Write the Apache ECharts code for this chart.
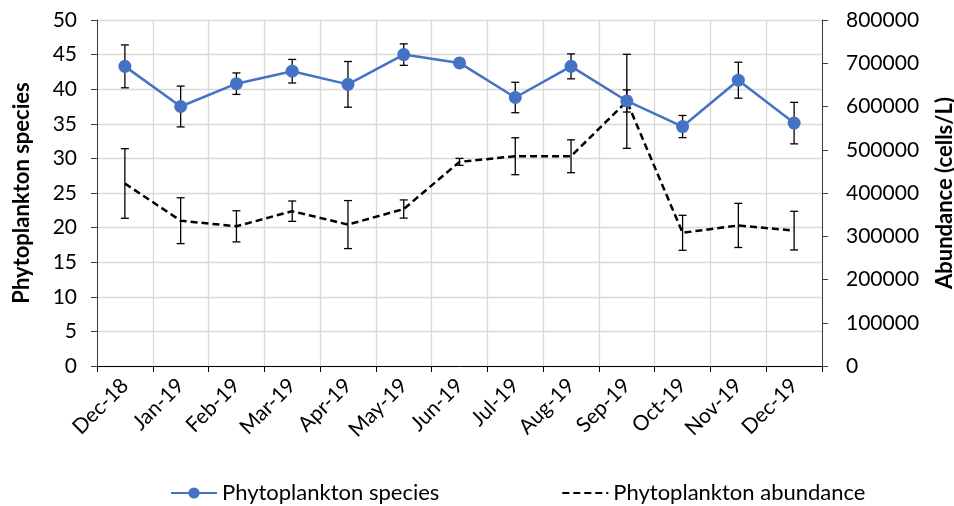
<!DOCTYPE html>
<html>
<head>
<meta charset="utf-8">
<script src="https://cdn.jsdelivr.net/npm/echarts@6/dist/echarts.min.js"></script>
<style>html,body{margin:0;padding:0;background:#fff}#c{width:954px;height:506px}</style>
</head>
<body>
<div id="c"></div>
<script>
var categories = ['Dec-18','Jan-19','Feb-19','Mar-19','Apr-19','May-19','Jun-19','Jul-19','Aug-19','Sep-19','Oct-19','Nov-19','Dec-19'];
var speciesMean = [43.3, 37.5, 40.8, 42.6, 40.7, 45.0, 43.8, 38.8, 43.3, 38.3, 34.6, 41.3, 35.1];
var speciesErr  = [3.1, 2.95, 1.55, 1.7, 3.3, 1.55, 0.5, 2.2, 1.8, 1.6, 1.6, 2.6, 3.0];
var abundanceMean = [422000, 336000, 323000, 358000, 327000, 363000, 472000, 485000, 485000, 612000, 308000, 325000, 313000];
var abundanceErr  = [80500, 53000, 36000, 23500, 55500, 21000, 8000, 42700, 38000, 108700, 40500, 51000, 44700];
var leftTicks = {min: 0, max: 50, interval: 5};
var rightTicks = {min: 0, max: 800000, interval: 100000};

var FONT = 'Lato';
function errData(mean, err) {
  return mean.map(function (m, i) { return [i, m - err[i], m + err[i]]; });
}
function errRender(params, api) {
  var x = api.value(0);
  var lo = api.coord([x, api.value(1)]);
  var hi = api.coord([x, api.value(2)]);
  var hw = 4;
  var st = {stroke: '#000', lineWidth: 1.3};
  return {
    type: 'group',
    children: [
      {type: 'line', shape: {x1: hi[0], y1: hi[1], x2: lo[0], y2: lo[1]}, style: st},
      {type: 'line', shape: {x1: hi[0] - hw, y1: hi[1], x2: hi[0] + hw, y2: hi[1]}, style: st},
      {type: 'line', shape: {x1: lo[0] - hw, y1: lo[1], x2: lo[0] + hw, y2: lo[1]}, style: st}
    ]
  };
}
var chart = echarts.init(document.getElementById('c'), null, {renderer: 'canvas'});
chart.setOption({
  animation: false,
  textStyle: {fontFamily: FONT},
  grid: {left: 97, right: 132, top: 20, bottom: 140, containLabel: false, outerBoundsMode: 'none'},
  legend: {
    data: [
      {name: 'Phytoplankton species'},
      {name: 'Phytoplankton abundance', itemStyle: {opacity: 0}}
    ],
    left: 165, top: 477, itemGap: 122, itemWidth: 46, itemHeight: 14,
    textStyle: {fontFamily: FONT, fontSize: 22, color: '#000'}
  },
  xAxis: {
    type: 'category', data: categories, boundaryGap: true,
    axisLine: {show: true, lineStyle: {color: '#000', width: 1}},
    axisTick: {show: true, length: 6, lineStyle: {color: '#000'}},
    splitLine: {show: true, lineStyle: {color: '#d9d9d9', width: 1.3}},
    axisLabel: {rotate: 45, fontSize: 21, color: '#000', margin: 16, fontFamily: FONT, interval: 0}
  },
  yAxis: [
    {
      type: 'value', min: leftTicks.min, max: leftTicks.max, interval: leftTicks.interval,
      name: 'Phytoplankton species', nameLocation: 'middle', nameGap: 64, nameRotate: 90,
      nameTextStyle: {fontSize: 22, fontWeight: 'bold', color: '#000', fontFamily: FONT},
      axisLine: {show: true, lineStyle: {color: '#404040', width: 1}},
      axisTick: {show: true, length: 6, lineStyle: {color: '#404040'}},
      axisLabel: {fontSize: 21, color: '#000', margin: 20, fontFamily: FONT},
      splitLine: {show: true, lineStyle: {color: '#d9d9d9', width: 1.3}}
    },
    {
      type: 'value', min: rightTicks.min, max: rightTicks.max, interval: rightTicks.interval,
      position: 'right',
      name: 'Abundance (cells/L)', nameLocation: 'middle', nameGap: 112, nameRotate: 90,
      nameTextStyle: {fontSize: 22, fontWeight: 'bold', color: '#000', fontFamily: FONT},
      axisLine: {show: true, lineStyle: {color: '#404040', width: 1}},
      axisTick: {show: true, length: 6, lineStyle: {color: '#404040'}},
      axisLabel: {fontSize: 21, color: '#000', margin: 24, fontFamily: FONT,
        formatter: function (v) { return String(v); }},
      splitLine: {show: false}
    }
  ],
  series: [
    {
      type: 'custom', name: 'speciesErr', yAxisIndex: 0, renderItem: errRender,
      data: errData(speciesMean, speciesErr), z: 1, silent: true
    },
    {
      type: 'custom', name: 'abundanceErr', yAxisIndex: 1, renderItem: errRender,
      data: errData(abundanceMean, abundanceErr), z: 1, silent: true
    },
    {
      name: 'Phytoplankton abundance', type: 'line', yAxisIndex: 1, data: abundanceMean,
      symbol: 'none', lineStyle: {color: '#000', width: 2.5, type: [7, 4]},
      itemStyle: {color: '#000'}, z: 2
    },
    {
      name: 'Phytoplankton species', type: 'line', yAxisIndex: 0, data: speciesMean,
      symbol: 'circle', symbolSize: 13, lineStyle: {color: '#4472C4', width: 2.5},
      itemStyle: {color: '#4472C4'}, z: 3
    }
  ]
});
</script>
</body>
</html>
